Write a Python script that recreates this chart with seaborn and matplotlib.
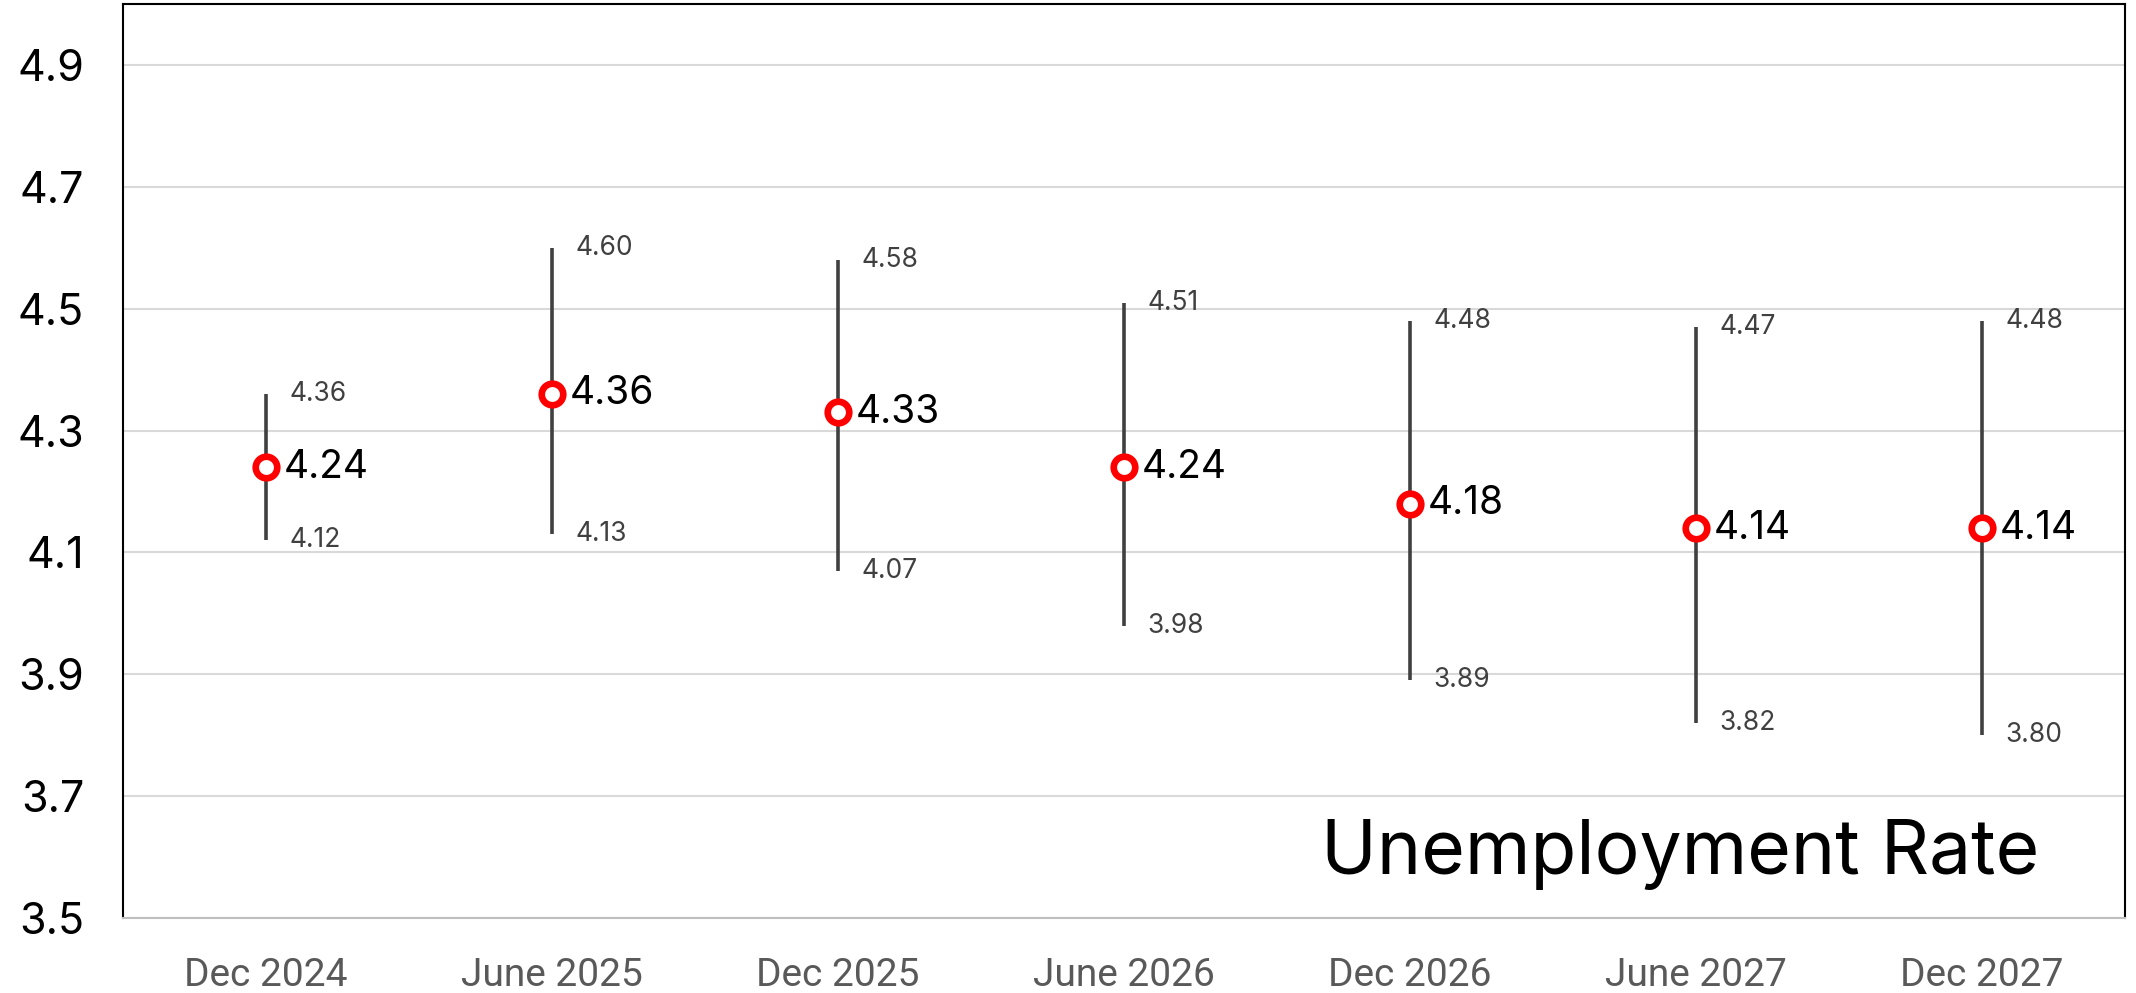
import pandas as pd
import matplotlib
matplotlib.use("Agg")
import matplotlib.pyplot as plt
import seaborn as sns
import numpy as np

# forecast periods and values
periods = ["Dec 2024", "June 2025", "Dec 2025", "June 2026", "Dec 2026", "June 2027", "Dec 2027"]
median = [4.24, 4.36, 4.33, 4.24, 4.18, 4.14, 4.14]
high = [4.36, 4.60, 4.58, 4.51, 4.48, 4.47, 4.48]
low = [4.12, 4.13, 4.07, 3.98, 3.89, 3.82, 3.80]
yticks = [3.5, 3.7, 3.9, 4.1, 4.3, 4.5, 4.7, 4.9]

df = pd.DataFrame({"period": periods, "median": median, "high": high, "low": low})

sns.set_theme(style="white")
plt.rcParams["font.family"] = ["Inter", "DejaVu Sans"]

fig = plt.figure(figsize=(21.36, 9.93), dpi=100)
ax = fig.add_axes([123 / 2136, (993 - 918) / 993, 2002 / 2136, 914 / 993])

# range bars
pos = np.arange(len(df))
ax.vlines(pos, df["low"], df["high"], color="#404040", linewidth=2.6, zorder=2)

# median markers
sns.scatterplot(data=df, x="period", y="median", ax=ax, marker="o", s=15.5 ** 2,
                facecolor="white", edgecolor="#FF0000", linewidth=4.8, zorder=3, legend=False)

for i, r in df.iterrows():
    ax.annotate(f"{r['median']:.2f}", (i, r["median"]), xytext=(13, 0), textcoords="offset points",
                ha="left", va="center", fontsize=28, color="black")
    ax.annotate(f"{r['high']:.2f}", (i, r["high"]), xytext=(17, 0), textcoords="offset points",
                ha="left", va="center", fontsize=19, color="#404040")
    ax.annotate(f"{r['low']:.2f}", (i, r["low"]), xytext=(17, 0), textcoords="offset points",
                ha="left", va="center", fontsize=19, color="#404040")

ax.set_xlim(-0.5, len(df) - 0.5)
ax.set_ylim(3.5, 5.0)
ax.set_yticks(yticks)
ax.set_yticklabels([f"{v:.1f}" for v in yticks], fontsize=31, color="black")
ax.tick_params(axis="y", length=0, pad=28)

ax.set_xticks(pos)
ax.set_xticklabels(periods, fontsize=28, color="#595959", family=["Roboto", "DejaVu Sans"])
ax.set_xticks(np.arange(len(df) + 1) - 0.5, minor=True)
ax.tick_params(axis="x", which="major", length=0, pad=28)
ax.tick_params(axis="x", which="minor", length=10, width=1.2, color="#BFBFBF", direction="out")
ax.set_xlabel("")
ax.set_ylabel("")

ax.grid(axis="y", color="#D9D9D9", linewidth=1.5)
ax.set_axisbelow(True)
for side in ["left", "top", "right"]:
    ax.spines[side].set_color("black")
    ax.spines[side].set_linewidth(1.5)
ax.spines["bottom"].set_color("#BFBFBF")
ax.spines["bottom"].set_linewidth(1.5)

ax.text(0.957, 0.069, "Unemployment Rate", transform=ax.transAxes, ha="right", va="center",
        fontsize=54, color="black")

fig.savefig("out.png", dpi=100)
